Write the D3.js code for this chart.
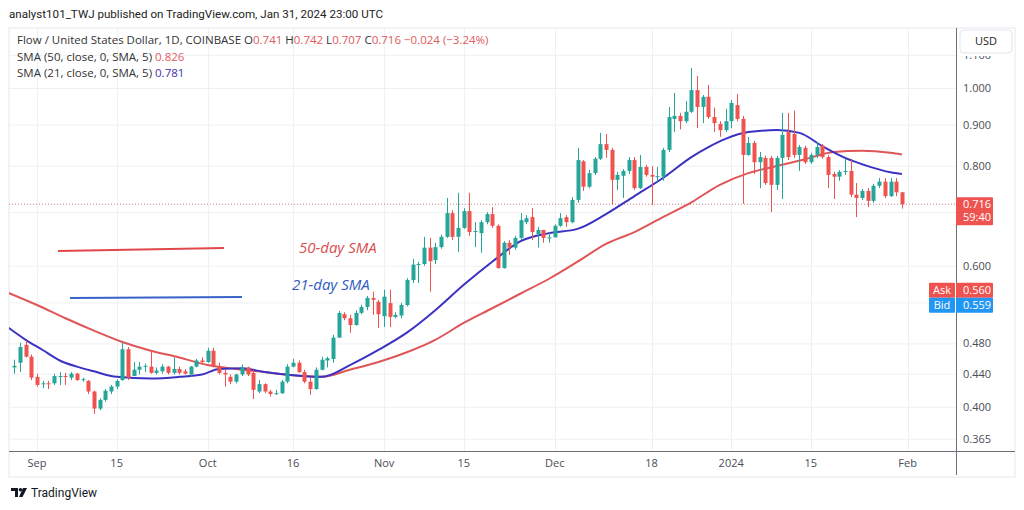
<!DOCTYPE html>
<html><head><meta charset="utf-8">
<script src="https://cdn.jsdelivr.net/npm/d3@7"></script>
<style>
html,body{margin:0;padding:0;background:#fff;}
svg{display:block;font-family:"Open Sans","Noto Sans",sans-serif;}
</style></head>
<body><svg id="c" width="1024" height="510"></svg>
<script>
// ---------- data ----------
const firstDay = "2023-08-28";
const opens = [0.448,0.454,0.478,0.462,0.436,0.427,0.428,0.428,0.436,0.437,0.435,0.440,0.432,0.431,0.418,0.398,0.408,0.418,0.424,0.432,0.472,0.437,0.445,0.449,0.449,0.441,0.443,0.449,0.441,0.446,0.443,0.439,0.449,0.457,0.455,0.470,0.449,0.441,0.436,0.430,0.439,0.448,0.441,0.418,0.427,0.418,0.415,0.416,0.430,0.449,0.454,0.442,0.430,0.421,0.445,0.457,0.459,0.488,0.522,0.516,0.506,0.524,0.533,0.547,0.541,0.519,0.539,0.518,0.520,0.536,0.576,0.602,0.603,0.632,0.610,0.633,0.652,0.698,0.652,0.669,0.702,0.661,0.659,0.680,0.696,0.673,0.596,0.641,0.632,0.650,0.680,0.690,0.657,0.665,0.650,0.651,0.673,0.690,0.680,0.725,0.810,0.753,0.783,0.816,0.851,0.837,0.768,0.777,0.788,0.813,0.750,0.797,0.779,0.775,0.775,0.837,0.915,0.923,0.909,0.934,0.994,0.947,0.975,0.920,0.902,0.886,0.909,0.952,0.915,0.825,0.854,0.808,0.818,0.818,0.757,0.818,0.881,0.876,0.825,0.842,0.808,0.825,0.847,0.820,0.781,0.775,0.786,0.788,0.736,0.729,0.744,0.723,0.755,0.764,0.733,0.764,0.741];
const highs = [0.458,0.481,0.484,0.465,0.440,0.431,0.431,0.440,0.442,0.441,0.442,0.441,0.435,0.432,0.419,0.410,0.421,0.426,0.433,0.481,0.475,0.455,0.455,0.453,0.471,0.448,0.452,0.450,0.461,0.449,0.446,0.450,0.459,0.461,0.474,0.474,0.454,0.445,0.439,0.440,0.452,0.449,0.445,0.432,0.428,0.420,0.420,0.432,0.452,0.459,0.457,0.445,0.435,0.448,0.462,0.462,0.492,0.527,0.525,0.521,0.528,0.536,0.550,0.557,0.544,0.560,0.560,0.525,0.539,0.579,0.612,0.607,0.652,0.650,0.641,0.656,0.729,0.704,0.740,0.708,0.740,0.680,0.684,0.700,0.710,0.676,0.644,0.646,0.654,0.698,0.694,0.708,0.671,0.665,0.659,0.676,0.698,0.694,0.731,0.842,0.813,0.790,0.820,0.879,0.876,0.842,0.786,0.792,0.820,0.820,0.825,0.802,0.799,0.797,0.842,0.947,0.986,0.931,0.963,1.059,1.035,0.980,1.009,0.945,0.909,0.942,0.966,0.983,0.923,0.869,0.859,0.832,0.823,0.823,0.823,0.931,0.931,0.937,0.849,0.847,0.830,0.856,0.851,0.825,0.786,0.790,0.816,0.816,0.761,0.748,0.750,0.759,0.772,0.772,0.772,0.772,0.742];
const lows = [0.440,0.442,0.461,0.432,0.424,0.422,0.421,0.426,0.426,0.426,0.432,0.431,0.430,0.415,0.392,0.396,0.406,0.415,0.421,0.431,0.432,0.437,0.439,0.442,0.440,0.439,0.440,0.439,0.439,0.439,0.439,0.436,0.448,0.452,0.454,0.448,0.439,0.424,0.427,0.428,0.437,0.437,0.409,0.416,0.416,0.412,0.414,0.415,0.428,0.448,0.441,0.428,0.414,0.420,0.444,0.448,0.454,0.488,0.513,0.495,0.505,0.522,0.528,0.521,0.502,0.503,0.503,0.516,0.516,0.534,0.571,0.571,0.600,0.557,0.603,0.630,0.650,0.646,0.624,0.667,0.654,0.633,0.623,0.676,0.669,0.595,0.595,0.619,0.628,0.646,0.676,0.646,0.632,0.641,0.641,0.651,0.671,0.671,0.678,0.719,0.744,0.750,0.779,0.813,0.818,0.715,0.746,0.729,0.781,0.746,0.748,0.775,0.715,0.764,0.766,0.832,0.881,0.888,0.904,0.931,0.891,0.904,0.915,0.881,0.869,0.881,0.891,0.909,0.717,0.823,0.781,0.750,0.757,0.700,0.746,0.727,0.813,0.818,0.788,0.804,0.804,0.818,0.816,0.750,0.727,0.766,0.779,0.731,0.690,0.725,0.710,0.719,0.750,0.729,0.731,0.733,0.707];
const closes = [0.450,0.475,0.462,0.435,0.426,0.428,0.427,0.437,0.437,0.436,0.440,0.432,0.433,0.418,0.398,0.408,0.419,0.424,0.431,0.472,0.435,0.445,0.449,0.450,0.441,0.444,0.449,0.441,0.446,0.441,0.440,0.449,0.457,0.455,0.470,0.449,0.441,0.439,0.430,0.439,0.448,0.439,0.420,0.427,0.418,0.415,0.416,0.430,0.449,0.454,0.442,0.430,0.421,0.445,0.458,0.460,0.488,0.524,0.516,0.506,0.524,0.533,0.547,0.544,0.522,0.549,0.518,0.521,0.536,0.576,0.602,0.603,0.632,0.608,0.633,0.652,0.698,0.652,0.669,0.702,0.661,0.663,0.680,0.696,0.673,0.596,0.641,0.632,0.650,0.684,0.688,0.661,0.665,0.650,0.651,0.673,0.688,0.680,0.725,0.813,0.753,0.783,0.816,0.851,0.837,0.768,0.779,0.788,0.813,0.750,0.797,0.779,0.775,0.776,0.837,0.920,0.923,0.909,0.934,0.994,0.947,0.975,0.920,0.904,0.886,0.909,0.958,0.915,0.825,0.854,0.808,0.820,0.761,0.757,0.818,0.874,0.820,0.825,0.844,0.808,0.825,0.844,0.820,0.779,0.775,0.786,0.788,0.736,0.729,0.744,0.723,0.755,0.764,0.733,0.764,0.741,0.716];

// SMA readings: dates and values
const sma50Dates = ["2023-08-27","2023-09-01","2023-09-06","2023-09-11","2023-09-16","2023-09-21","2023-09-26","2023-10-01","2023-10-06","2023-10-11","2023-10-16","2023-10-21","2023-10-26","2023-10-31","2023-11-05","2023-11-10","2023-11-15","2023-11-20","2023-11-25","2023-11-30","2023-12-05","2023-12-10","2023-12-15","2023-12-20","2023-12-25","2023-12-30","2024-01-04","2024-01-09","2024-01-14","2024-01-19","2024-01-24","2024-01-29","2024-01-31"];
const sma50Values = [0.555,0.536,0.516,0.498,0.482,0.470,0.461,0.451,0.446,0.442,0.438,0.436,0.445,0.455,0.468,0.485,0.509,0.531,0.554,0.578,0.607,0.639,0.661,0.690,0.720,0.757,0.783,0.799,0.815,0.832,0.835,0.830,0.826];
const sma21Dates = ["2023-08-27","2023-08-30","2023-09-02","2023-09-05","2023-09-08","2023-09-11","2023-09-15","2023-09-21","2023-09-26","2023-09-30","2023-10-03","2023-10-07","2023-10-11","2023-10-16","2023-10-21","2023-10-26","2023-10-31","2023-11-05","2023-11-10","2023-11-15","2023-11-20","2023-11-25","2023-11-30","2023-12-05","2023-12-10","2023-12-15","2023-12-20","2023-12-25","2023-12-28","2023-12-31","2024-01-04","2024-01-09","2024-01-13","2024-01-17","2024-01-21","2024-01-25","2024-01-29","2024-01-31"];
const sma21Values = [0.502,0.485,0.471,0.457,0.449,0.443,0.436,0.434,0.436,0.439,0.446,0.447,0.442,0.438,0.436,0.451,0.471,0.495,0.528,0.568,0.607,0.644,0.659,0.667,0.696,0.733,0.772,0.820,0.844,0.864,0.881,0.886,0.879,0.846,0.818,0.799,0.785,0.781];

// grid levels; labels that the reference hides behind price boxes are left blank
const priceTicks = [1.1,1.0,0.9,0.8,0.7,0.6,0.54,0.48,0.44,0.40,0.365];
const priceTickLabels = ["1.100","1.000","0.900","0.800","","0.600","","0.480","0.440","0.400","0.365"];
const dateTicks = ["2023-09-01","2023-09-15","2023-10-01","2023-10-16","2023-11-01","2023-11-15","2023-12-01","2023-12-18","2024-01-01","2024-01-15","2024-02-01"];
const dateTickLabels = ["Sep","15","Oct","16","Nov","15","Dec","18","2024","15","Feb"];

// ---------- setup ----------
const parse = d3.utcParse("%Y-%m-%d");
const start = parse(firstDay);
const candles = opens.map((o,i)=>({date:d3.utcDay.offset(start,i),o,h:highs[i],l:lows[i],c:closes[i]}));

const svg = d3.select("#c");
const P = {l:9, r:956, t:28, b:451, right:1015, bottom:477};
const x = d3.scaleUtc().domain([parse("2023-09-01"),parse("2024-02-01")]).range([37,907.6]);
const y = d3.scaleLog().domain([1.0,0.365]).range([88,438.7]);

const green="#26a69a", red="#ef5350";

// title
svg.append("text").attr("x",9).attr("y",18).attr("font-size",11.6).attr("fill","#222")
  .attr("font-family","Roboto, sans-serif")
  .text("analyst101_TWJ published on TradingView.com, Jan 31, 2024 23:00 UTC");

// panel
svg.append("rect").attr("x",P.l).attr("y",P.t).attr("width",P.right-P.l).attr("height",P.bottom-P.t)
  .attr("fill","#fff").attr("stroke","#e6e8ee");

const defs = svg.append("defs");
defs.append("clipPath").attr("id","plot").append("rect")
  .attr("x",P.l).attr("y",P.t).attr("width",P.r-P.l).attr("height",P.b-P.t);
defs.append("clipPath").attr("id","axisclip").append("rect")
  .attr("x",P.r+1).attr("y",56).attr("width",60).attr("height",P.b-56);

// grid
const grid = svg.append("g").attr("clip-path","url(#plot)");
grid.selectAll("line.h").data(priceTicks).join("line")
  .attr("x1",P.l).attr("x2",P.r).attr("y1",d=>y(d)+0.5).attr("y2",d=>y(d)+0.5)
  .attr("stroke","#eef0f3");
grid.selectAll("line.v").data(dateTicks).join("line")
  .attr("y1",P.t).attr("y2",P.b).attr("x1",d=>Math.round(x(parse(d)))+0.5).attr("x2",d=>Math.round(x(parse(d)))+0.5)
  .attr("stroke","#eef0f3");

// axis lines
svg.append("line").attr("x1",P.l).attr("x2",P.right).attr("y1",P.b+0.5).attr("y2",P.b+0.5).attr("stroke","#6b6f78");
svg.append("line").attr("x1",P.r+0.5).attr("x2",P.r+0.5).attr("y1",P.t).attr("y2",P.bottom-2).attr("stroke","#6b6f78");

const plot = svg.append("g").attr("clip-path","url(#plot)");

// current price dotted line
plot.append("line").attr("x1",P.l).attr("x2",P.r).attr("y1",y(0.716)).attr("y2",y(0.716))
  .attr("stroke","#c98080").attr("stroke-dasharray","1,2");

// annotations (hand-drawn lines and labels)
svg.append("line").attr("x1",58).attr("y1",251).attr("x2",224).attr("y2",248).attr("stroke","#e0484b").attr("stroke-width",2);
svg.append("line").attr("x1",70).attr("y1",298).attr("x2",242).attr("y2",297).attr("stroke","#3763c9").attr("stroke-width",2);
svg.append("text").attr("x",299).attr("y",253).attr("font-size",15).attr("font-style","italic").attr("fill","#d95052").text("50-day SMA");
svg.append("text").attr("x",292).attr("y",290).attr("font-size",15).attr("font-style","italic").attr("fill","#2f5cc4").text("21-day SMA");

// SMA lines
const line = d3.line().x(d=>x(d[0])).y(d=>y(d[1])).curve(d3.curveMonotoneX);
plot.append("path").datum(sma50Dates.map((d,i)=>[parse(d),sma50Values[i]]))
  .attr("d",line).attr("fill","none").attr("stroke","#e05557").attr("stroke-width",2);
plot.append("path").datum(sma21Dates.map((d,i)=>[parse(d),sma21Values[i]]))
  .attr("d",line).attr("fill","none").attr("stroke","#3b32c4").attr("stroke-width",2);

// candles
const cg = plot.selectAll("g.c").data(candles).join("g");
cg.append("line")
  .attr("x1",d=>Math.round(x(d.date))+0.5).attr("x2",d=>Math.round(x(d.date))+0.5)
  .attr("y1",d=>y(d.h)).attr("y2",d=>y(d.l))
  .attr("stroke",d=>d.c>=d.o?green:red);
cg.append("rect")
  .attr("x",d=>Math.round(x(d.date))-1.5).attr("width",4)
  .attr("y",d=>y(Math.max(d.o,d.c)))
  .attr("height",d=>Math.max(1,y(Math.min(d.o,d.c))-y(Math.max(d.o,d.c))))
  .attr("fill",d=>d.c>=d.o?green:red);

// price axis labels (top one partly covered by the currency box)
svg.append("g").attr("clip-path","url(#axisclip)")
  .selectAll("text").data(priceTicks.filter((d,i)=>priceTickLabels[i]!=="")).join("text")
  .attr("x",963).attr("y",d=>y(d)+4).attr("font-size",11).attr("fill","#4a4d55")
  .text(d=>priceTickLabels[priceTicks.indexOf(d)]);

// USD box
svg.append("rect").attr("x",960).attr("y",30).attr("width",52).attr("height",23).attr("rx",4)
  .attr("fill","#fff").attr("stroke","#e3e5ea");
svg.append("text").attr("x",986).attr("y",45).attr("text-anchor","middle").attr("font-size",11).attr("fill","#222").text("USD");

// current price label
const cp = y(0.716);
svg.append("rect").attr("x",956).attr("y",cp-7).attr("width",37).attr("height",28).attr("fill","#ef5350").attr("rx",1);
svg.append("text").attr("x",963).attr("y",cp+4).attr("font-size",11).attr("fill","#fff").text("0.716");
svg.append("text").attr("x",963).attr("y",cp+17).attr("font-size",11).attr("fill","#fff").text("59:40");

// Ask/Bid
const ay = y(0.560);
svg.append("rect").attr("x",929).attr("y",ay-7).attr("width",26).attr("height",15).attr("fill","#ef5350").attr("rx",1);
svg.append("rect").attr("x",956).attr("y",ay-7).attr("width",37).attr("height",15).attr("fill","#ef5350").attr("rx",1);
svg.append("text").attr("x",942).attr("y",ay+4).attr("text-anchor","middle").attr("font-size",11).attr("fill","#fff").text("Ask");
svg.append("text").attr("x",963).attr("y",ay+4).attr("font-size",11).attr("fill","#fff").text("0.560");
svg.append("rect").attr("x",929).attr("y",ay+8).attr("width",26).attr("height",15).attr("fill","#2196f3").attr("rx",1);
svg.append("rect").attr("x",956).attr("y",ay+8).attr("width",37).attr("height",15).attr("fill","#2196f3").attr("rx",1);
svg.append("text").attr("x",942).attr("y",ay+19).attr("text-anchor","middle").attr("font-size",11).attr("fill","#fff").text("Bid");
svg.append("text").attr("x",963).attr("y",ay+19).attr("font-size",11).attr("fill","#fff").text("0.559");

// date labels
svg.selectAll("text.dt").data(dateTicks).join("text")
  .attr("x",d=>x(parse(d))).attr("y",467).attr("text-anchor","middle").attr("font-size",11).attr("fill","#4a4d55")
  .text((d,i)=>dateTickLabels[i]);

// legend
const lg = svg.append("g").attr("font-size",11.5);
const t1 = lg.append("text").attr("x",17).attr("y",44).attr("fill","#333");
t1.append("tspan").text("Flow / United States Dollar, 1D, COINBASE  ");
const last = candles[candles.length-1];
[["O",last.o],["H",last.h],["L",last.l],["C",last.c]].forEach(([k,v])=>{
  t1.append("tspan").attr("fill","#333").text(k);
  t1.append("tspan").attr("fill","#e05a5a").text(v.toFixed(3)+"  ");
});
t1.append("tspan").attr("fill","#e05a5a").text("\u22120.024 (\u22123.24%)");
const t2 = lg.append("text").attr("x",17).attr("y",61).attr("fill","#333");
t2.append("tspan").text("SMA (50, close, 0, SMA, 5)  ");
t2.append("tspan").attr("fill","#e05a5a").text(sma50Values[sma50Values.length-1].toFixed(3));
const t3 = lg.append("text").attr("x",17).attr("y",77).attr("fill","#333");
t3.append("tspan").text("SMA (21, close, 0, SMA, 5)  ");
t3.append("tspan").attr("fill","#3b32a8").text(sma21Values[sma21Values.length-1].toFixed(3));

// TradingView logo
const logo = svg.append("g").attr("transform","translate(11,488)");
logo.append("path").attr("d","M0 0 H7 V9 H4 V3 H0 Z").attr("fill","#131722");
logo.append("circle").attr("cx",9.5).attr("cy",1.8).attr("r",1.8).attr("fill","#131722");
logo.append("path").attr("d","M12 0 H16 L11.5 9 H8 Z").attr("fill","#131722");
svg.append("text").attr("x",31).attr("y",497).attr("font-size",12).attr("fill","#131722").attr("font-family","Roboto, sans-serif").text("TradingView");
</script></body></html>
